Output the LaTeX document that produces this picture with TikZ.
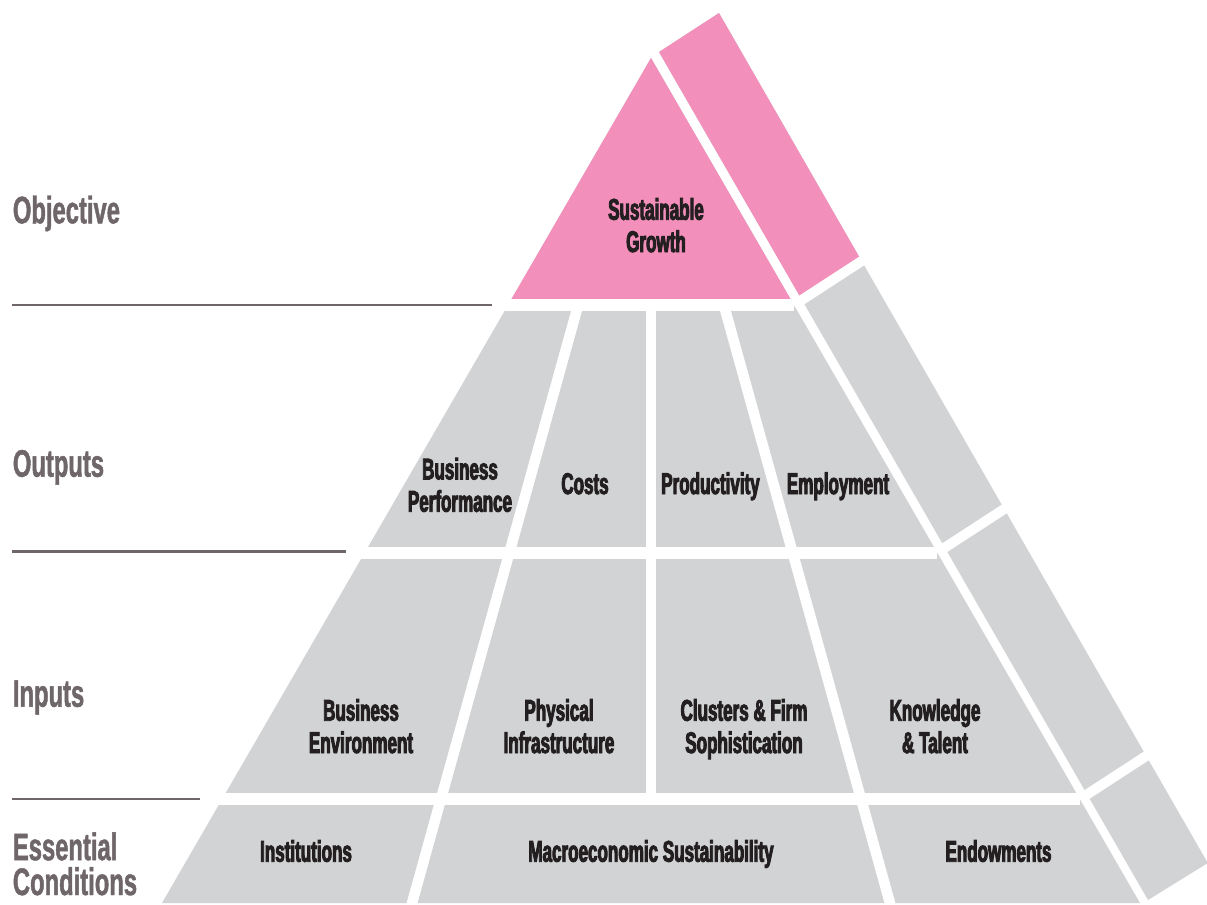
\documentclass[tikz,border=0pt]{standalone}
\usepackage{fontspec}
\newfontfamily\boxfont[FakeStretch=0.57,BoldFeatures={FakeBold=3}]{Liberation Sans}
\newfontfamily\labfont[FakeStretch=0.62,BoldFeatures={FakeBold=1.2}]{Liberation Sans}
\definecolor{pinkc}{HTML}{F28FBB}
\definecolor{grayc}{HTML}{D1D3D4}
\definecolor{txtc}{HTML}{231F20}
\definecolor{labc}{RGB}{110,102,105}
\tikzset{
  boxtext/.style={font=\boxfont\bfseries\fontsize{30}{32.4}\selectfont, text=txtc, align=center, anchor=base, inner sep=0pt},
  labtext/.style={font=\labfont\bfseries\fontsize{38.5}{35}\selectfont, text=labc, align=left, anchor=base west, inner sep=0pt},
  labline/.style={draw=labc, line width=2.7bp},
  rowgap/.style={draw=white, line width=12bp},
  colgap/.style={draw=white, line width=10.5bp},
  sidegap/.style={draw=white, line width=10bp}
}
\begin{document}
\begin{tikzpicture}[x=1bp, y=-1bp]
\useasboundingbox (0,0) rectangle (1207,905);
% front face
\coordinate (A) at (651,58);
\coordinate (BL) at (162,903);
\coordinate (BR) at (1140,903);
\fill[grayc] (A) -- (BL) -- (BR) -- cycle;
\fill[pinkc] (A) -- (508,305) -- (794,305) -- cycle;
% side face
\fill[grayc] (659,52) -- (719,13) -- (1207.8,863) -- (1148,900) -- cycle;
\fill[pinkc] (659,52) -- (719,13) -- (861.6,261.0) -- (801.9,299.85) -- cycle;
% row gaps
\coordinate (r1r) at (794,305);
\coordinate (r2r) at (937.3,552.5);
\coordinate (r3r) at (1080,799);
\draw[rowgap] (500,305) -- (r1r);
\draw[rowgap] (355,552.5) -- (r2r);
\draw[rowgap] (212,799) -- (r3r);
\draw[sidegap] (r1r) -- ++(150,-97.5);
\draw[sidegap] (r2r) -- ++(150,-97.5);
\draw[sidegap] (r3r) -- ++(150,-97.5);
% column gaps
\draw[colgap] (578.2,305) -- (410.1,910);
\draw[colgap] (723.8,305) -- (891.9,910);
\draw[colgap] (651,305) -- (651,799);
% label lines
\draw[labline] (12,305) -- (492,305);
\draw[labline] (12,551.7) -- (346,551.7);
\draw[labline] (12,799) -- (200,799);
% left labels
\node[labtext] (lobj) at (12.7,223.3) {Objective};
\node[labtext] (lout) at (12.7,476.7) {Outputs};
\node[labtext] (linp) at (12.7,706.7) {Inputs};
\node[labtext] (less) at (12.7,895) {Essential\\Conditions};
% box labels
\node[boxtext] (sg) at (656,252) {Sustainable\\Growth};
\node[boxtext] (bp) at (460,511.7) {Business\\Performance};
\node[boxtext] (co) at (585,494) {Costs};
\node[boxtext] (pr) at (710.5,494) {Productivity};
\node[boxtext] (em) at (838,494) {Employment};
\node[boxtext] (be) at (361,753) {Business\\Environment};
\node[boxtext] (pi) at (559,753) {Physical\\Infrastructure};
\node[boxtext] (cf) at (744,753) {Clusters \& Firm\\Sophistication};
\node[boxtext] (kt) at (935,753) {Knowledge\\\& Talent};
\node[boxtext] (in) at (306,861.7) {Institutions};
\node[boxtext] (ma) at (651,861.7) {Macroeconomic Sustainability};
\node[boxtext] (en) at (998.5,861.7) {Endowments};
\end{tikzpicture}
\end{document}
